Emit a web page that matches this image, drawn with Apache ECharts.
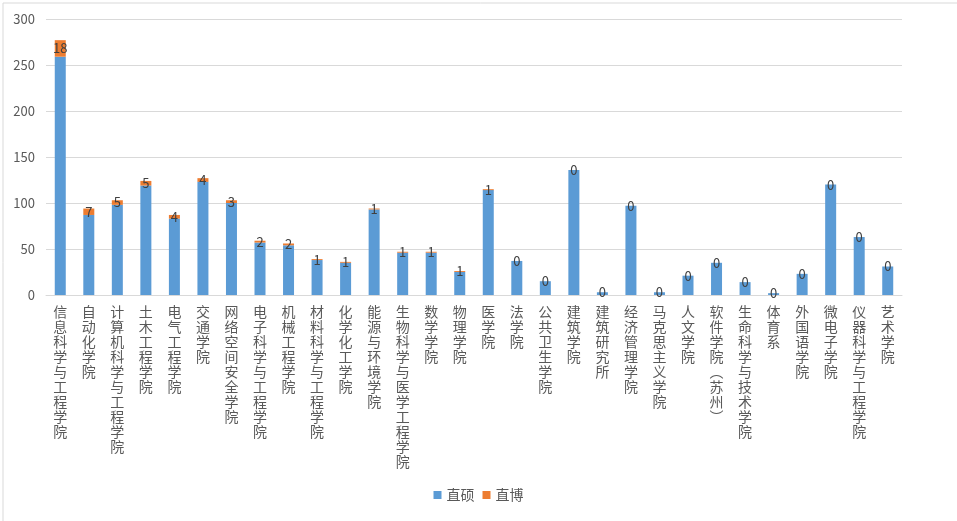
<!DOCTYPE html>
<html>
<head>
<meta charset="utf-8">
<script src="https://cdn.jsdelivr.net/npm/echarts@6/dist/echarts.min.js"></script>
<style>
html,body{margin:0;padding:0;background:#fff;}
#main{width:957px;height:521px;}
</style>
</head>
<body>
<div id="main"></div>
<script>
const categories = ['信息科学与工程学院','自动化学院','计算机科学与工程学院','土木工程学院','电气工程学院','交通学院','网络空间安全学院','电子科学与工程学院','机械工程学院','材料科学与工程学院','化学化工学院','能源与环境学院','生物科学与医学工程学院','数学学院','物理学院','医学院','法学院','公共卫生学院','建筑学院','建筑研究所','经济管理学院','马克思主义学院','人文学院','软件学院︵苏州︶','生命科学与技术学院','体育系','外国语学院','微电子学院','仪器科学与工程学院','艺术学院'];
const masterValues = [259, 87, 98, 119, 83, 123, 100, 57, 54, 38, 35, 93, 46, 46, 25, 114, 37, 15, 136, 3, 97, 3, 21, 35, 14, 2, 23, 120, 63, 31];
const phdValues = [18, 7, 5, 5, 4, 4, 3, 2, 2, 1, 1, 1, 1, 1, 1, 1, 0, 0, 0, 0, 0, 0, 0, 0, 0, 0, 0, 0, 0, 0];
const seriesNames = ['直硕', '直博'];
const yTicks = [0, 50, 100, 150, 200, 250, 300];

const FONT = '"Noto Sans CJK SC", "Noto Sans", sans-serif';
const chart = echarts.init(document.getElementById('main'));
chart.setOption({
  animation: false,
  textStyle: { fontFamily: FONT },
  graphic: [{
    type: 'rect', left: 0.5, top: 0.5,
    shape: { x: 0, y: 0, width: 955, height: 519 },
    style: { fill: 'none', stroke: '#D9D9D9', lineWidth: 1 },
    silent: true
  }],
  grid: { left: 46, right: 55, top: 19, bottom: 226, containLabel: false },
  legend: {
    bottom: 14, left: 'center', icon: 'rect', itemWidth: 8, itemHeight: 8, itemGap: 8,
    textStyle: { color: '#595959', fontSize: 14, fontFamily: FONT },
    data: seriesNames
  },
  xAxis: {
    type: 'category', data: categories,
    axisLine: { show: true, lineStyle: { color: '#D9D9D9' } },
    axisTick: { show: false },
    axisLabel: {
      interval: 0, color: '#595959', fontSize: 14, lineHeight: 15, margin: 9,
      verticalAlign: 'top', fontFamily: FONT,
      formatter: v => Array.from(v).join('\n')
    }
  },
  yAxis: {
    type: 'value', min: yTicks[0], max: yTicks[yTicks.length - 1], interval: 50,
    axisLine: { show: false }, axisTick: { show: false },
    splitLine: { lineStyle: { color: '#D9D9D9' } },
    axisLabel: { color: '#595959', fontSize: 13, margin: 11, fontFamily: FONT }
  },
  series: [
    {
      name: seriesNames[0], type: 'bar', stack: 'a', data: masterValues,
      barWidth: 11, itemStyle: { color: '#5B9BD5' }
    },
    {
      name: seriesNames[1], type: 'bar', stack: 'a', data: phdValues,
      barWidth: 11, itemStyle: { color: '#ED7D31' },
      label: {
        show: true, position: 'inside', color: '#404040', fontSize: 13,
        fontFamily: FONT
      }
    }
  ]
});
</script>
</body>
</html>
